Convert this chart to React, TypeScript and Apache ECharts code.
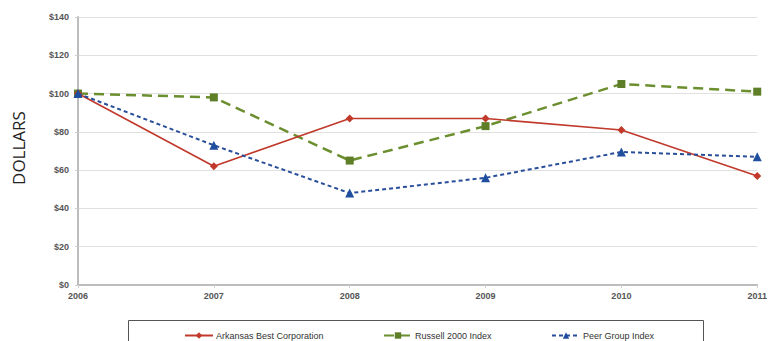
import React, { useEffect, useRef } from "react";
import * as echarts from "echarts";

const years = ["2006", "2007", "2008", "2009", "2010", "2011"];
const arkansas = [100, 62, 87, 87, 81, 57];
const russell = [100, 98, 65, 83, 105, 101];
const peer = [100, 73, 48, 56, 69.5, 67];
const seriesNames = ["Arkansas Best Corporation", "Russell 2000 Index", "Peer Group Index"];

export default function App() {
  const ref = useRef<HTMLDivElement>(null);
  useEffect(() => {
    const chart = echarts.init(ref.current!, null, { renderer: "svg" });
    const font = "Liberation Sans, Arial, sans-serif";
    const legendBase = {
      top: 326,
      itemWidth: 28,
      itemHeight: 8,
      itemGap: 4,
      textStyle: { fontSize: 9, color: "#333", fontFamily: font, padding: [0, 0, 0, -2] },
      selectedMode: false,
    };
    chart.setOption({
      animation: false,
      backgroundColor: "#ffffff",
      grid: { left: 78, right: 8, top: 17, bottom: 56 },
      xAxis: {
        type: "category",
        data: years,
        boundaryGap: false,
        axisLine: { lineStyle: { color: "#bdbdbd", width: 2 } },
        axisTick: { show: true, length: 3, lineStyle: { color: "#cfcfcf" } },
        axisLabel: { fontSize: 9, fontWeight: "bold", color: "#555", fontFamily: font, margin: 6 },
      },
      yAxis: {
        type: "value",
        min: 0,
        max: 140,
        interval: 20,
        axisLine: { show: true, lineStyle: { color: "#bdbdbd", width: 2 } },
        axisTick: { show: true, length: 3, lineStyle: { color: "#cfcfcf" } },
        axisLabel: {
          fontSize: 9,
          fontWeight: "bold",
          color: "#555",
          fontFamily: font,
          margin: 9,
          formatter: (v: number) => "$" + v,
        },
        splitLine: { lineStyle: { color: "#e0e0e0", width: 1 } },
      },
      legend: [
        { ...legendBase, left: 179, data: [seriesNames[0]] },
        { ...legendBase, left: 378, data: [seriesNames[1]] },
        { ...legendBase, left: 546, data: [seriesNames[2]] },
      ],
      graphic: [
        {
          type: "text",
          x: 18.5,
          y: 148,
          rotation: Math.PI / 2,
          style: {
            text: "DOLLARS",
            fontSize: 17,
            fill: "#222",
            fontFamily: "Open Sans, sans-serif",
            align: "center",
            verticalAlign: "middle",
          },
        },
        {
          type: "rect",
          shape: { x: 128.5, y: 320.5, width: 575, height: 30 },
          style: { fill: "none", stroke: "#555", lineWidth: 1 },
          z: -1,
        },
      ],
      series: [
        {
          name: seriesNames[0],
          type: "line",
          data: arkansas,
          symbol: "diamond",
          symbolSize: 8,
          lineStyle: { color: "#c0392b", width: 1.6 },
          itemStyle: { color: "#c0392b" },
          z: 3,
        },
        {
          name: seriesNames[1],
          type: "line",
          data: russell,
          symbol: "rect",
          symbolSize: 8,
          lineStyle: { color: "#6b8e2f", width: 2.5, type: [10, 6] },
          itemStyle: { color: "#5e7f28" },
          z: 2,
        },
        {
          name: seriesNames[2],
          type: "line",
          data: peer,
          symbol: "triangle",
          symbolSize: 9,
          lineStyle: { color: "#2a4f9a", width: 2, type: [4, 3] },
          itemStyle: { color: "#1f4e9e" },
          z: 4,
        },
      ],
    });
    return () => chart.dispose();
  }, []);
  return <div ref={ref} style={{ width: 770, height: 341, position: "absolute", left: 0, top: 0 }} />;
}
